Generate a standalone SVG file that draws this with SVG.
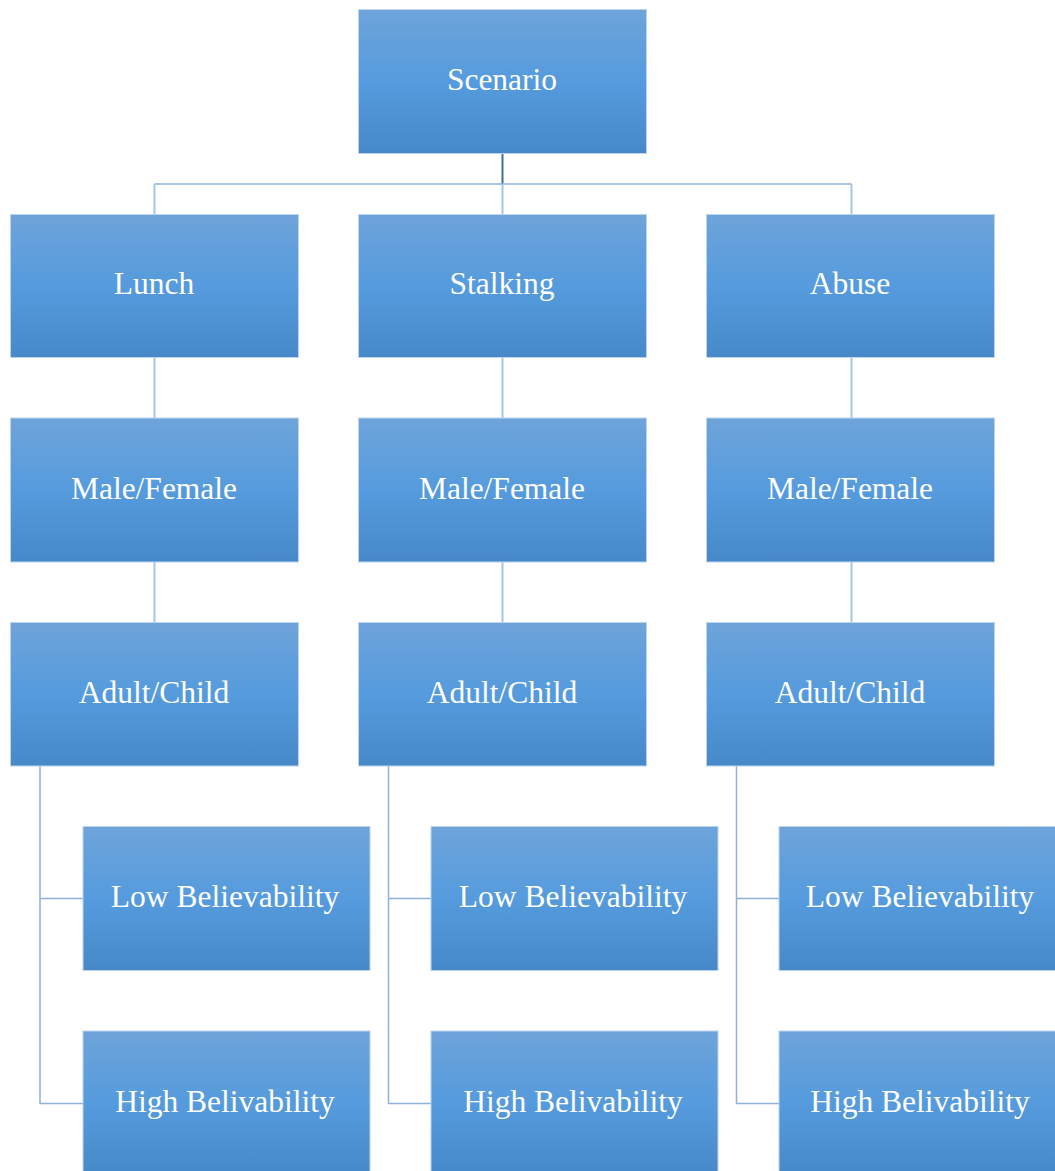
<svg xmlns="http://www.w3.org/2000/svg" width="1055" height="1171" viewBox="0 0 1055 1171">
<defs>
<linearGradient id="g" x1="0" y1="0" x2="0" y2="1">
<stop offset="0" stop-color="#6ea4da"/>
<stop offset="0.5" stop-color="#559bdd"/>
<stop offset="1" stop-color="#4789c8"/>
</linearGradient>
<style>
.box{fill:url(#g);stroke:#bcd4ee;stroke-width:1}
.t{font-family:"Liberation Serif","Times New Roman",serif;font-size:31.5px;fill:#ffffff;text-anchor:middle}
.c{fill:none;stroke:#a6c6e6;stroke-width:2}
.c2{fill:none;stroke:#8eb2d9;stroke-width:1.5}
.cd{fill:none;stroke:#3f6f9f;stroke-width:2}
</style>
</defs>
<rect width="1055" height="1171" fill="#ffffff"/>
<g id="connectors">
<path class="cd" d="M502.5 154 V184"/>
<path class="c2" d="M154.5 184 H851.5"/>
<path class="c" d="M154.5 184 V214 M502.5 184 V214 M851.5 184 V214"/>
<path class="c" d="M154.5 357 V418 M502.5 357 V418 M851.5 357 V418"/>
<path class="c" d="M154.5 562 V622 M502.5 562 V622 M851.5 562 V622"/>
<path class="c2" d="M40 766 V1103.5 H83 M40 898.5 H83"/>
<path class="c2" d="M388.5 766 V1103.5 H431 M388.5 898.5 H431"/>
<path class="c2" d="M736.5 766 V1103.5 H779 M736.5 898.5 H779"/>
</g>
<g id="scenario"><rect class="box" x="358.5" y="9.5" width="288" height="144"/><text class="t" x="502" y="90">Scenario</text></g>
<g id="lunch"><rect class="box" x="10.5" y="214.5" width="288" height="143"/><text class="t" x="154" y="294">Lunch</text></g>
<g id="stalking"><rect class="box" x="358.5" y="214.5" width="288" height="143"/><text class="t" x="502" y="294">Stalking</text></g>
<g id="abuse"><rect class="box" x="706.5" y="214.5" width="288" height="143"/><text class="t" x="850" y="294">Abuse</text></g>
<g id="mf1"><rect class="box" x="10.5" y="418" width="288" height="144"/><text class="t" x="154" y="499">Male/Female</text></g>
<g id="mf2"><rect class="box" x="358.5" y="418" width="288" height="144"/><text class="t" x="502" y="499">Male/Female</text></g>
<g id="mf3"><rect class="box" x="706.5" y="418" width="288" height="144"/><text class="t" x="850" y="499">Male/Female</text></g>
<g id="ac1"><rect class="box" x="10.5" y="622.5" width="288" height="143.5"/><text class="t" x="154" y="703">Adult/Child</text></g>
<g id="ac2"><rect class="box" x="358.5" y="622.5" width="288" height="143.5"/><text class="t" x="502" y="703">Adult/Child</text></g>
<g id="ac3"><rect class="box" x="706.5" y="622.5" width="288" height="143.5"/><text class="t" x="850" y="703">Adult/Child</text></g>
<g id="low1"><rect class="box" x="83" y="826.5" width="287" height="144"/><text class="t" x="225" y="907">Low Believability</text></g>
<g id="low2"><rect class="box" x="431" y="826.5" width="287" height="144"/><text class="t" x="573" y="907">Low Believability</text></g>
<g id="low3"><rect class="box" x="779" y="826.5" width="287" height="144"/><text class="t" x="920" y="907">Low Believability</text></g>
<g id="high1"><rect class="box" x="83" y="1031" width="287" height="144"/><text class="t" x="225" y="1112">High Belivability</text></g>
<g id="high2"><rect class="box" x="431" y="1031" width="287" height="144"/><text class="t" x="573" y="1112">High Belivability</text></g>
<g id="high3"><rect class="box" x="779" y="1031" width="287" height="144"/><text class="t" x="920" y="1112">High Belivability</text></g>
</svg>
